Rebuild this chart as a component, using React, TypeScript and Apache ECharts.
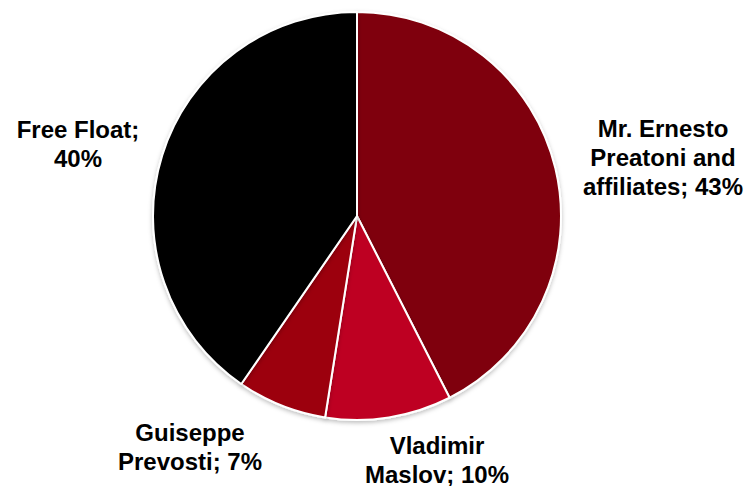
import React, { useEffect, useRef } from "react";
import * as echarts from "echarts";

const categories = [
  "Mr. Ernesto\nPreatoni and\naffiliates",
  "Vladimir\nMaslov",
  "Guiseppe\nPrevosti",
  "Free Float",
];
const values = [42.5, 10.0, 7.1, 40.4];
const colors = ["#7F0009", "#BE0620", "#9C0010", "#000000"];

export default function App() {
  const ref = useRef<HTMLDivElement>(null);
  useEffect(() => {
    if (!ref.current) return;
    document.body.style.margin = "0";
    const chart = echarts.init(ref.current, null, { renderer: "svg" });
    const labelPos: Record<number, [number, number]> = {
      0: [663, 157],
      1: [437, 460],
      2: [190, 447],
      3: [78, 144],
    };
    chart.setOption({
      animation: false,
      backgroundColor: "#ffffff",
      series: [
        {
          type: "pie",
          center: [357, 216],
          radius: 204,
          startAngle: 90,
          clockwise: true,
          data: categories.map((c, i) => ({
            name: c,
            value: values[i],
            itemStyle: { color: colors[i] },
          })),
          itemStyle: {
            borderColor: "#ffffff",
            borderWidth: 2,
            shadowColor: "rgba(0,0,0,0.25)",
            shadowBlur: 4,
            shadowOffsetY: 2,
          },
          label: {
            show: true,
            position: "outside",
            formatter: (p: any) => {
              const pct = Math.round(p.value) + "%";
              return p.dataIndex === 3 ? "Free Float;\n" + pct : p.name + "; " + pct;
            },
            fontFamily: "Liberation Sans, Arial, sans-serif",
            fontWeight: "bold",
            fontSize: 24,
            lineHeight: 29,
            color: "#000000",
            align: "center",
            overflow: "none",
          },
          labelLine: { show: false },
          labelLayout: (params: any) => {
            const pos = labelPos[params.dataIndex];
            return {
              x: pos[0],
              y: pos[1],
              align: "center",
              verticalAlign: "middle",
            };
          },
          emphasis: { disabled: true },
        },
      ],
    });
    return () => chart.dispose();
  }, []);
  return <div ref={ref} style={{ width: 750, height: 486 }} />;
}
